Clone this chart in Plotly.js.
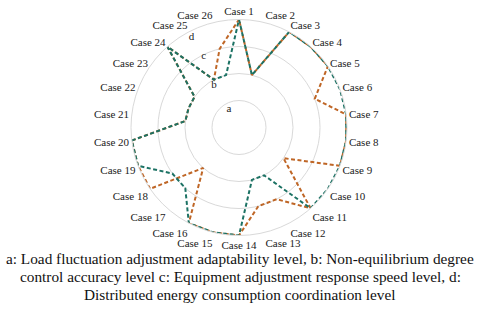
<!DOCTYPE html>
<html>
<head>
<meta charset="utf-8">
<script src="https://cdn.plot.ly/plotly-3.0.1.min.js"></script>
<style>html,body{margin:0;padding:0;background:#fff;}#chart{width:480px;height:310px;}</style>
</head>
<body>
<div id="chart"></div>
<script>
const cases = ["Case 1","Case 2","Case 3","Case 4","Case 5","Case 6","Case 7","Case 8","Case 9","Case 10","Case 11","Case 12","Case 13","Case 14","Case 15","Case 16","Case 17","Case 18","Case 19","Case 20","Case 21","Case 22","Case 23","Case 24","Case 25","Case 26"];
const seriesOrange = [4,2,4,4,4,3,4,4,4,2,4,3,3,4,4,4,2,4,4,4,2,2,2,4,2,3];
const seriesTeal   = [4,2,4,4,4,4,4,4,4,4,4,2,2,4,4,4,3,3,4,4,2,2,2,4,2,2];
const levelVals = [1,2,3,4];
const levelText = ["a","b","c","d"];
const levelSpoke = "Case 25";
const captionLines = [
  "a: Load fluctuation adjustment adaptability level, b: Non-equilibrium degree",
  "control accuracy level c: Equipment adjustment response speed level, d:",
  "Distributed energy consumption coordination level"
];

function closed(arr){ return arr.concat([arr[0]]); }
const serif = "Liberation Serif, Times New Roman, serif";

const traces = [
  {type:"scatterpolar", mode:"lines", r:closed(seriesOrange), theta:closed(cases),
   line:{color:"#bf6626", width:2, dash:"0px,2.5px,4px,0px"}, showlegend:false, hoverinfo:"skip"},
  {type:"scatterpolar", mode:"lines", r:closed(seriesTeal), theta:closed(cases),
   line:{color:"#1c7264", width:2, dash:"4px,2.5px"}, showlegend:false, hoverinfo:"skip"},
  {type:"scatterpolar", mode:"text", r:levelVals, theta:levelVals.map(()=>levelSpoke),
   text:levelText, textposition:["bottom right","bottom center","middle right","bottom right"],
   textfont:{size:11, color:"#222", family:serif}, showlegend:false, hoverinfo:"skip", cliponaxis:false}
];

const cx = 239, cy = 127.5, R = 108, W = 480, H = 310;
const capY = [258, 276, 294];
const layout = {
  width:W, height:H,
  margin:{l:0,r:0,t:0,b:0},
  paper_bgcolor:"#fff",
  font:{family:serif, color:"#222", size:11},
  showlegend:false,
  polar:{
    domain:{x:[(cx-R)/W,(cx+R)/W], y:[(H-cy-R)/H,(H-cy+R)/H]},
    bgcolor:"rgba(0,0,0,0)",
    angularaxis:{type:"category", categoryarray:cases, rotation:90, direction:"clockwise",
      showgrid:false, showline:true, linecolor:"#d9d9d9", linewidth:1, ticks:"",
      tickfont:{size:11, color:"#222", family:serif}},
    radialaxis:{range:[0,4], tickvals:levelVals, showticklabels:false,
      showline:false, ticks:"", showgrid:true, gridcolor:"#d9d9d9", gridwidth:1}
  },
  annotations: captionLines.map((t,i)=>({text:t, xref:"paper", yref:"paper", x:0.5, y:1-capY[i]/H,
    xanchor:"center", yanchor:"middle", showarrow:false,
    font:{size:15.3, color:"#111", family:serif}}))
};
Plotly.newPlot("chart", traces, layout, {staticPlot:true, displayModeBar:false});
</script>
</body>
</html>
